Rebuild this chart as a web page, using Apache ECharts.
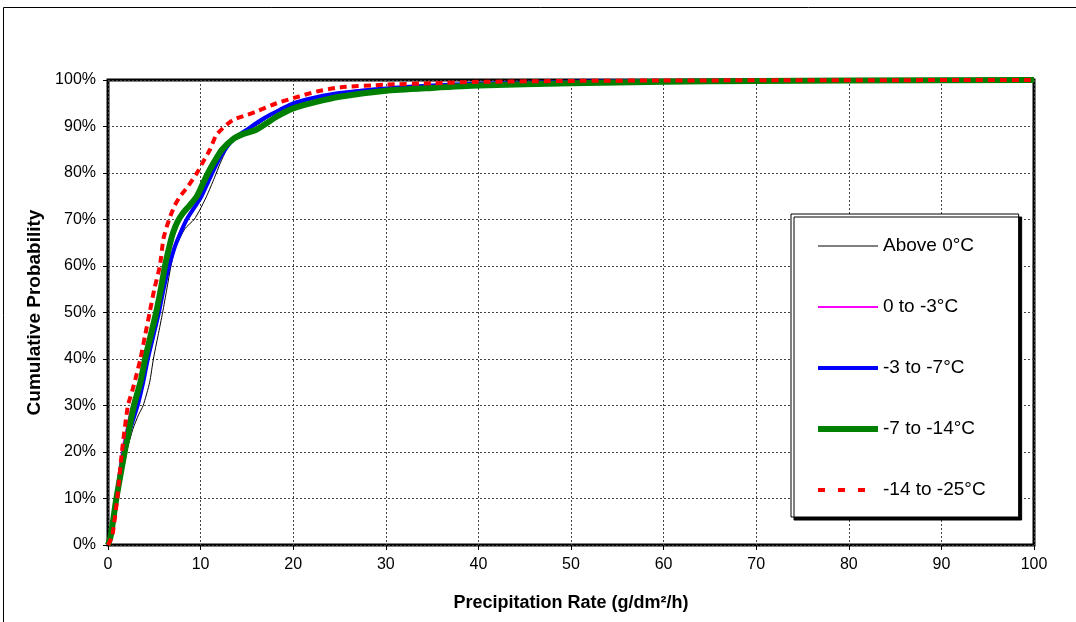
<!DOCTYPE html>
<html>
<head>
<meta charset="utf-8">
<script src="https://cdn.jsdelivr.net/npm/echarts@6/dist/echarts.min.js"></script>
<style>html,body{margin:0;padding:0;background:#fff;}#c{width:1076px;height:622px;}</style>
</head>
<body>
<div id="c"></div>
<script>
// Series names
const seriesNames = ['Above 0\u00B0C', '0 to -3\u00B0C', '-3 to -7\u00B0C', '-7 to -14\u00B0C', '-14 to -25\u00B0C'];
// Axis ticks
const xTicks = [0, 10, 20, 30, 40, 50, 60, 70, 80, 90, 100];
const yTicks = [0, 10, 20, 30, 40, 50, 60, 70, 80, 90, 100];

// Above 0°C: precipitation rate (x) and cumulative probability % (y)
const xAbove0 = [0, 0.3, 1.0, 2.0, 2.7, 3.3, 3.8, 4.5, 4.9, 5.4, 5.9, 6.35, 6.8, 7.3, 8.3, 9.3, 9.9, 10.65, 11.5, 12.1, 12.8, 13.5, 14.5, 16, 17.5, 20, 23, 27, 30, 40, 50, 60, 70, 100];
const pAbove0 = [0, 2, 10, 20, 25, 28, 30, 35, 40, 45, 50, 55, 60, 64, 68, 70, 72, 75, 79, 82, 85, 87, 88.5, 90.2, 92.2, 94.6, 96.3, 97.6, 98.2, 99.0, 99.5, 99.8, 99.9, 100];

// 0 to -3°C
const x0to3 = [0, 0.3, 0.8, 1.5, 2.0, 2.6, 3.4, 4.0, 4.7, 5.3, 5.9, 6.5, 7.1, 7.7, 8.4, 9.2, 10.0, 10.7, 11.4, 12.2, 13.2, 14, 15, 16, 17.5, 20, 25, 30, 40, 50, 60, 100];
const p0to3 = [0, 2, 10, 20, 25, 30, 35, 40, 45, 50, 55, 60, 64, 67, 70, 72.5, 75, 78, 81, 84, 86.7, 88, 89.4, 90.8, 92.6, 95, 97.3, 98.3, 99.2, 99.6, 99.8, 100];

// -3 to -7°C
const x3to7 = [0, 0.3, 0.9, 1.7, 2.4, 3.2, 3.8, 4.3, 4.9, 5.5, 6.0, 6.6, 7.2, 7.8, 8.5, 9.3, 10.1, 10.8, 11.5, 12.3, 13.2, 14.0, 15.0, 16.0, 17.5, 20, 22.5, 25, 30, 35, 40, 50, 60, 70, 100];
const p3to7 = [0, 2, 10, 20, 25, 30, 35, 40, 45, 50, 55, 60, 64, 67, 70, 72.5, 75, 78, 81, 84, 86.5, 88, 89.3, 90.7, 92.5, 95, 96.3, 97.2, 98.2, 98.8, 99.2, 99.6, 99.8, 99.9, 100];

// -7 to -14°C
const x7to14 = [0, 0.3, 0.9, 1.8, 2.8, 3.5, 4.0, 4.6, 5.2, 5.7, 6.15, 6.6, 7.0, 7.5, 8.1, 8.8, 9.6, 10.2, 10.8, 11.5, 12.3, 13.5, 14.5, 16.0, 18.2, 20, 22.5, 25, 30, 35, 40, 50, 60, 70, 80, 100];
const p7to14 = [0, 2, 10, 20, 30, 35, 40, 45, 50, 55, 60, 64, 67, 69.5, 71.4, 73, 75, 77.5, 80, 82.5, 85, 87.3, 88.3, 89.3, 92.1, 93.9, 95.3, 96.4, 97.7, 98.3, 98.8, 99.3, 99.6, 99.8, 99.9, 100];

// -14 to -25°C
const x14to25 = [0, 0.2, 0.46, 1.0, 1.5, 2.15, 2.6, 3.0, 3.5, 4.0, 4.5, 5.0, 5.6, 6.0, 6.6, 7.2, 7.8, 8.6, 9.6, 10.3, 11.0, 11.7, 12.6, 13.5, 15, 16, 18.2, 20, 22.5, 25, 30, 35, 40, 50, 60, 100];
const p14to25 = [0, 0.8, 1.8, 10, 20, 30, 33, 36, 40, 45, 50, 55, 60, 66, 70, 73, 75, 77, 80, 82.5, 85, 88.2, 90, 91.4, 92.5, 93.2, 95.0, 96.1, 97.5, 98.4, 99.0, 99.3, 99.6, 99.8, 99.9, 100];

function pairs(xs, ps) { return xs.map((x, i) => [x, ps[i]]); }

const chart = echarts.init(document.getElementById('c'), null, {renderer: 'canvas'});
const FONT = '"Liberation Sans", Arial, sans-serif';

const colors = ['#000000', '#ff00ff', '#0000ff', '#008000', '#ff0000'];
const widths = [1, 2, 4, 6, 4];
const dashes = ['solid', 'solid', 'solid', 'solid', [7, 5]];
const legendDashes = ['solid', 'solid', 'solid', 'solid', [7, 13]];
const xs = [xAbove0, x0to3, x3to7, x7to14, x14to25];
const ps = [pAbove0, p0to3, p3to7, p7to14, p14to25];

const option = {
  animation: false,
  backgroundColor: '#fff',
  graphic: [{
    type: 'rect', z: -10, silent: true,
    shape: {x: 3.5, y: 7.5, width: 1200, height: 800},
    style: {fill: 'none', stroke: '#000', lineWidth: 1}
  }],
  grid: {left: 108, right: 42, top: 80, bottom: 77, show: true, borderColor: '#000', borderWidth: 3, backgroundColor: 'transparent'},
  xAxis: {
    type: 'value', min: xTicks[0], max: xTicks[xTicks.length - 1], interval: 10,
    name: 'Precipitation Rate (g/dm\u00B2/h)', nameLocation: 'middle', nameGap: 49,
    nameTextStyle: {fontFamily: FONT, fontWeight: 'bold', fontSize: 18, color: '#000'},
    axisLine: {show: false},
    axisTick: {show: true, length: 5, lineStyle: {color: '#000', width: 1}},
    axisLabel: {fontFamily: FONT, fontSize: 16, color: '#000', margin: 12},
    splitLine: {show: true, lineStyle: {color: '#444', width: 1, type: [2, 2]}}
  },
  yAxis: {
    type: 'value', min: yTicks[0], max: yTicks[yTicks.length - 1], interval: 10,
    name: 'Cumulative Probability', nameLocation: 'middle', nameGap: 60, nameRotate: 90,
    nameTextStyle: {fontFamily: FONT, fontWeight: 'bold', fontSize: 19, color: '#000'},
    axisLine: {show: false},
    axisTick: {show: true, length: 5, lineStyle: {color: '#000', width: 1}},
    axisLabel: {fontFamily: FONT, fontSize: 16, color: '#000', margin: 12, formatter: '{value}%'},
    splitLine: {show: true, lineStyle: {color: '#444', width: 1, type: [2, 2]}}
  },
  legend: {
    orient: 'vertical', left: 791, top: 214,
    padding: [22, 33, 17, 24],
    itemWidth: 60, itemHeight: 20, itemGap: 41,
    backgroundColor: '#fff', borderColor: '#000', borderWidth: 1,
    shadowColor: '#000', shadowBlur: 0, shadowOffsetX: 3, shadowOffsetY: 3,
    textStyle: {fontFamily: FONT, fontSize: 19, color: '#000', lineHeight: 20},
    itemStyle: {opacity: 0},
    data: seriesNames.map((n, i) => ({
      name: n,
      itemStyle: {opacity: 0},
      lineStyle: {width: widths[i], color: colors[i], type: legendDashes[i], opacity: 1}
    }))
  },
  series: seriesNames.map((n, i) => ({
    name: n, type: 'line', data: pairs(xs[i], ps[i]), showSymbol: false, symbol: 'none', smooth: 0.2, z: 2 + i,
    lineStyle: {color: colors[i], width: widths[i], type: dashes[i]}, itemStyle: {color: colors[i]}
  }))
};
chart.setOption(option);
</script>
</body>
</html>
